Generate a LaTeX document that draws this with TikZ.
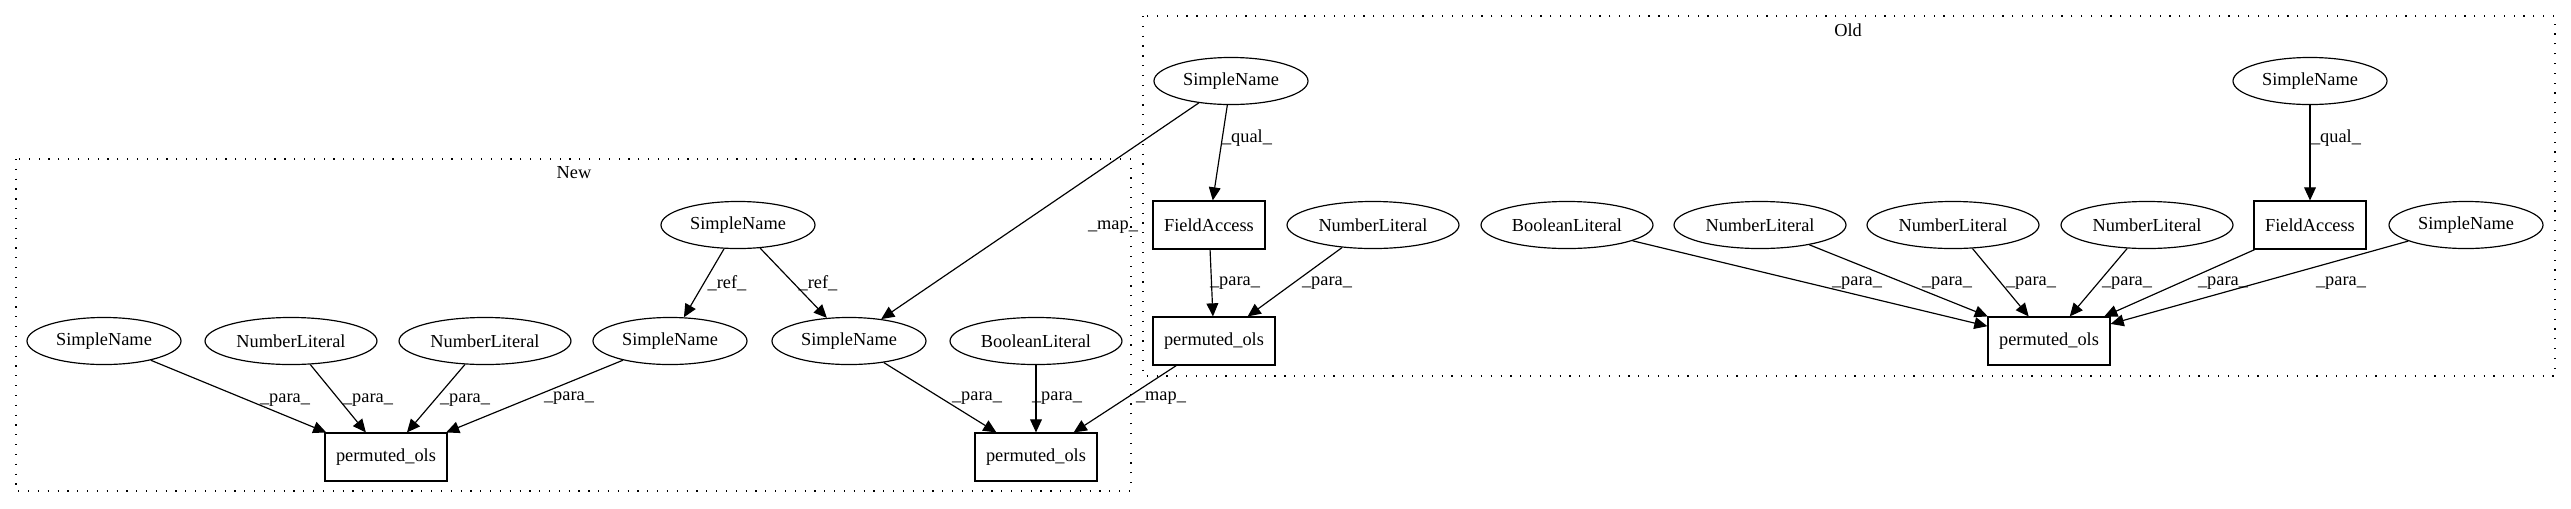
\documentclass[tikz,border=0pt]{standalone}
\usepackage{fontspec}
\setmainfont{Liberation Serif}
\usetikzlibrary{arrows.meta,shapes.geometric}
\begin{document}
\begin{tikzpicture}[x=0.763pt,y=-0.763pt,
  font=\fontsize{14pt}{16pt}\selectfont,
  ell/.style={draw, ellipse, inner sep=0pt, minimum height=35.9pt, line width=0.9pt},
  sn/.style={ell, minimum width=117.5pt},
  nl/.style={ell, minimum width=131.2pt},
  bl/.style={ell, minimum width=131.2pt},
  boxnode/.style={draw, rectangle, inner sep=0pt, minimum height=36.6pt, line width=0.9pt},
  fa/.style={boxnode, minimum width=85.5pt},
  po/.style={boxnode, minimum width=93.1pt},
  conn/.style={draw, line width=0.9pt, -{Triangle[length=10pt,width=9pt]}},
  elabel/.style={inner sep=0pt},
  cluster/.style={draw, line width=0.9pt, dash pattern=on 0.9pt off 6.6pt}
]
\useasboundingbox (0,0) rectangle (2571,508);

% clusters
\draw[cluster] (16,159) rectangle (1131,491);
\node[elabel] (newlbl) at (574,173) {New};
\draw[cluster] (1143,16) rectangle (2555,376);
\node[elabel] (oldlbl) at (1848,30) {Old};

% New cluster nodes
\node[sn] (nsntop) at (738,225) {SimpleName};
\node[sn] (nsn1) at (104,341) {SimpleName};
\node[nl] (nnl2) at (291,341) {NumberLiteral};
\node[nl] (nnl3) at (485,341) {NumberLiteral};
\node[sn] (nsn4) at (670,341) {SimpleName};
\node[sn] (nsn5) at (849,341) {SimpleName};
\node[bl] (nbl) at (1036,341) {BooleanLiteral};
\node[po] (npo1) at (386,457) {permuted\_ols};
\node[po] (npo2) at (1036,457) {permuted\_ols};

% Old cluster nodes
\node[sn] (osntop1) at (1231,81) {SimpleName};
\node[sn] (osntop2) at (2310,81) {SimpleName};
\node[fa] (ofa1) at (1209,225) {FieldAccess};
\node[nl] (onl1) at (1373,225) {NumberLiteral};
\node[bl] (obl) at (1567,225) {BooleanLiteral};
\node[nl] (onl2) at (1760,225) {NumberLiteral};
\node[nl] (onl3) at (1953,225) {NumberLiteral};
\node[nl] (onl4) at (2147,225) {NumberLiteral};
\node[fa] (ofa2) at (2310,225) {FieldAccess};
\node[sn] (osn) at (2466,225) {SimpleName};
\node[po] (opo1) at (1214,341) {permuted\_ols};
\node[po] (opo2) at (2049,341) {permuted\_ols};

% New edges
\draw[conn] (nsntop) -- (nsn4);
\node[elabel] at (727,283) {\_ref\_};
\draw[conn] (nsntop) -- (nsn5);
\node[elabel] at (818,283) {\_ref\_};
\draw[conn] (nsn1) -- (npo1);
\node[elabel] at (285,400) {\_para\_};
\draw[conn] (nnl2) -- (npo1);
\node[elabel] at (368,400) {\_para\_};
\draw[conn] (nnl3) -- (npo1);
\node[elabel] at (465,400) {\_para\_};
\draw[conn] (nsn4) -- (npo1);
\node[elabel] at (569,398) {\_para\_};
\draw[conn] (nsn5) -- (npo2);
\node[elabel] at (977,398) {\_para\_};
\draw[conn] (nbl) -- (npo2);
\node[elabel] at (1057,398) {\_para\_};

% cross edges
\draw[conn] (osntop1) -- (nsn5);
\node[elabel] at (1113,227) {\_map\_};
\draw[conn] (opo1) -- (npo2);
\node[elabel] at (1161,398) {\_map\_};

% Old edges
\draw[conn] (osntop1) -- (ofa1);
\node[elabel] at (1247,138) {\_qual\_};
\draw[conn] (osntop2) -- (ofa2);
\node[elabel] at (2336,138) {\_qual\_};
\draw[conn] (ofa1) -- (opo1);
\node[elabel] at (1235,283) {\_para\_};
\draw[conn] (onl1) -- (opo1);
\node[elabel] at (1327,283) {\_para\_};
\draw[conn] (obl) -- (opo2);
\node[elabel] at (1857,283) {\_para\_};
\draw[conn] (onl2) -- (opo2);
\node[elabel] at (1947,283) {\_para\_};
\draw[conn] (onl3) -- (opo2);
\node[elabel] at (2031,283) {\_para\_};
\draw[conn] (onl4) -- (opo2);
\node[elabel] at (2127,283) {\_para\_};
\draw[conn] (ofa2) -- (opo2);
\node[elabel] at (2223,283) {\_para\_};
\draw[conn] (osn) -- (opo2);
\node[elabel] at (2341,283) {\_para\_};
\end{tikzpicture}
\end{document}
